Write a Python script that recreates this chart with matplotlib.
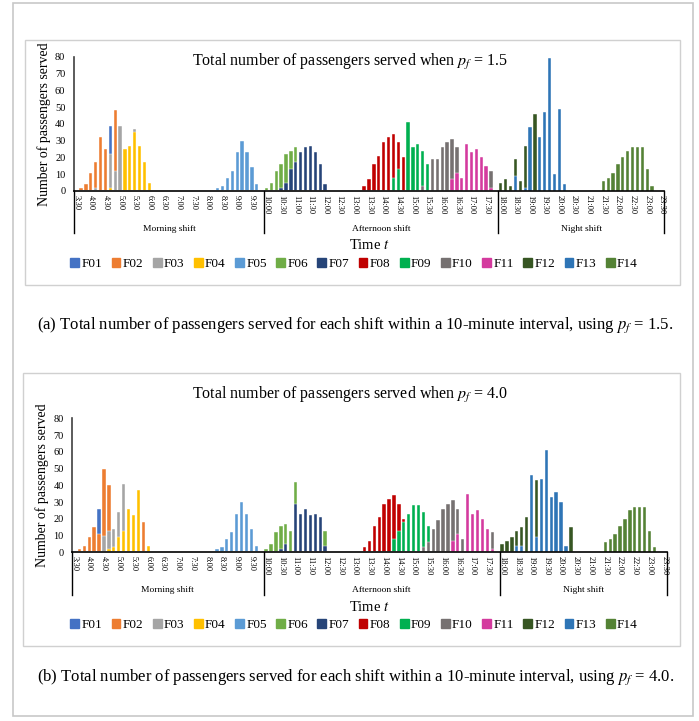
import matplotlib
matplotlib.use("Agg")
import matplotlib.pyplot as plt
from matplotlib.patches import Rectangle
import numpy as np

plt.rcParams['font.family'] = ['Liberation Serif', 'DejaVu Serif']
plt.rcParams['mathtext.fontset'] = 'stix'

# categories: every 10 minutes from 3:30 to 23:30
times = []
for m in range(3 * 60 + 30, 23 * 60 + 31, 10):
    times.append("%d:%02d" % (m // 60, m % 60))

names = ["F01", "F02", "F03", "F04", "F05", "F06", "F07",
         "F08", "F09", "F10", "F11", "F12", "F13", "F14"]
colors = ["#4472C4", "#ED7D31", "#A5A5A5", "#FFC000", "#5B9BD5", "#70AD47", "#264478",
          "#C00000", "#00B050", "#767171", "#D43A9E", "#375623", "#2E75B6", "#548235"]

shifts = ["Morning shift", "Afternoon shift", "Night shift"]
shift_starts = ["3:30", "10:00", "18:00"]

# (a) p_f = 1.5 : (first slot, passengers per 10-minute slot)
a_F01 = ("4:40", [39])
a_F02 = ("3:40", [2, 4, 11, 17, 32, 25, 0, 48])
a_F03 = ("4:10", [2, 0, 0, 22, 12, 39, 0, 0, 37])
a_F04 = ("4:40", [2, 0, 0, 25, 27, 35, 27, 17, 5])
a_F05 = ("8:20", [2, 3, 8, 12, 23, 30, 23, 14, 4])
a_F06 = ("10:00", [2, 5, 12, 16, 22, 24, 26])
a_F07 = ("10:30", [2, 5, 13, 17, 23, 26, 27, 23, 16, 4])
a_F08 = ("13:20", [3, 7, 16, 21, 29, 32, 34, 29, 20])
a_F09 = ("14:20", [8, 13, 0, 41, 26, 28, 24, 16])
a_F10 = ("15:20", [3, 0, 19, 19, 26, 29, 31, 26, 0, 0, 0, 0, 0, 0, 12])
a_F11 = ("16:20", [7, 11, 8, 28, 23, 25, 20, 15, 2])
a_F12 = ("18:00", [5, 7, 3, 19, 6, 27, 0, 46])
a_F13 = ("18:30", [9, 0, 2, 38, 0, 32, 47, 79, 10, 49, 4])
a_F14 = ("21:30", [6, 8, 11, 16, 20, 24, 26, 26, 26, 13, 3])

# (b) p_f = 4.0
b_F01 = ("4:20", [26])
b_F02 = ("3:40", [2, 4, 9, 15, 11, 50, 40, 0, 0, 0, 0, 0, 0, 18])
b_F03 = ("4:30", [10, 13, 14, 24, 41])
b_F04 = ("4:40", [2, 3, 9, 13, 26, 22, 37, 0, 4])
b_F05 = ("8:20", [2, 3, 8, 12, 23, 30, 23, 14, 4])
b_F06 = ("10:00", [2, 5, 12, 16, 17, 13, 42, 0, 0, 0, 0, 0, 13])
b_F07 = ("10:30", [2, 5, 0, 29, 23, 26, 22, 23, 21, 4])
b_F08 = ("13:20", [3, 7, 16, 21, 29, 32, 34, 29, 20])
b_F09 = ("14:20", [8, 13, 18, 23, 28, 28, 24, 16])
b_F10 = ("15:20", [3, 6, 14, 19, 26, 29, 31, 26, 8, 0, 0, 0, 0, 0, 12])
b_F11 = ("16:20", [7, 11, 0, 35, 23, 25, 20, 14, 2])
b_F12 = ("18:00", [5, 7, 9, 13, 15, 21, 0, 43, 0, 0, 0, 0, 0, 0, 15])
b_F13 = ("18:30", [4, 4, 0, 46, 9, 44, 61, 33, 36, 30, 4])
b_F14 = ("21:30", [6, 8, 11, 16, 20, 25, 27, 27, 27, 13, 3])

panel_a = [a_F01, a_F02, a_F03, a_F04, a_F05, a_F06, a_F07,
           a_F08, a_F09, a_F10, a_F11, a_F12, a_F13, a_F14]
panel_b = [b_F01, b_F02, b_F03, b_F04, b_F05, b_F06, b_F07,
           b_F08, b_F09, b_F10, b_F11, b_F12, b_F13, b_F14]


def full_series(entry):
    start, vals = entry
    out = np.zeros(len(times))
    i0 = times.index(start)
    out[i0:i0 + len(vals)] = vals
    return out


W, H = 699, 721
fig = plt.figure(figsize=(W / 100, H / 100), dpi=100)


def fx(px):
    return px / W


def fy(py):
    return 1 - py / H


# page frame and chart boxes
fig.add_artist(Rectangle((fx(13), fy(716)), fx(680), 713 / H, transform=fig.transFigure,
                         fill=False, edgecolor="#c8c8c8", linewidth=1.2))
fig.add_artist(Rectangle((fx(25), fy(285)), fx(655), 245 / H, transform=fig.transFigure,
                         fill=False, edgecolor="#d0d0d0", linewidth=1.0))
fig.add_artist(Rectangle((fx(23), fy(646)), fx(657), 273 / H, transform=fig.transFigure,
                         fill=False, edgecolor="#d0d0d0", linewidth=1.0))


def draw_panel(rect, data, pf, title_y, legend_y, caption, caption_y):
    ax = fig.add_axes(rect)
    x = np.arange(len(times))
    for name, col, entry in zip(names, colors, data):
        ax.bar(x, full_series(entry), width=0.68, color=col, edgecolor="white",
               linewidth=0.3, label=name)
    ax.set_xlim(-0.5, len(times) - 0.5)
    ax.set_ylim(0, 80)
    ax.set_yticks(range(0, 81, 10))
    ax.tick_params(axis="y", length=0, labelsize=7.5, pad=6)
    ax.set_xticks(x[::3])
    ax.set_xticklabels(times[::3], rotation=270, fontsize=6)
    ax.tick_params(axis="x", length=0, pad=3)
    for s in ["top", "right"]:
        ax.spines[s].set_visible(False)
    ax.spines["bottom"].set_color("black")
    ax.spines["bottom"].set_linewidth(1.2)
    ax.spines["left"].set_color("#404040")
    ax.spines["left"].set_linewidth(1.2)

    # shift level of the category axis
    trans = ax.get_xaxis_transform()
    edges = [times.index(s) - 0.5 for s in shift_starts] + [len(times) - 0.5]
    for e in edges:
        ax.plot([e, e], [0, -0.315], transform=trans, color="black", linewidth=1.0,
                clip_on=False)
    for k, label in enumerate(shifts):
        ax.text((edges[k] + edges[k + 1]) / 2, -0.285, label, transform=trans,
                ha="center", va="center", fontsize=6.8)
    ax.text(0.5, -0.405, "Time $\\mathit{t}$", transform=ax.transAxes, ha="center",
            va="center", fontsize=10.5)
    ax.set_ylabel("Number of passengers served", fontsize=10, labelpad=3)

    fig.text(fx(350), fy(title_y), "Total number of passengers served when $\\mathit{p_f}$ = %s" % pf,
             ha="center", va="center", fontsize=11.5)
    handles = [Rectangle((0, 0), 1, 1, color=c) for c in colors]
    fig.legend(handles, names, loc="center", bbox_to_anchor=(fx(354), fy(legend_y)),
               ncol=14, frameon=False, fontsize=9.5, handlelength=0.66, handleheight=0.66,
               handletextpad=0.18, columnspacing=0.72, borderaxespad=0)
    fig.text(fx(37), fy(caption_y), caption, ha="left", va="center", fontsize=12)
    return ax


draw_panel([fx(73.7), fy(191), fx(590.6), 134.3 / H], panel_a, "1.5", 62, 264,
           "(a) Total number of passengers served for each shift within a 10-minute interval, using $\\mathit{p_f}$ = 1.5.",
           325)
draw_panel([fx(72), fy(552.3), fx(594.7), 134 / H], panel_b, "4.0", 395, 625,
           "(b) Total number of passengers served for each shift within a 10-minute interval, using $\\mathit{p_f}$ = 4.0.",
           677)

fig.savefig("out.png", dpi=100)
